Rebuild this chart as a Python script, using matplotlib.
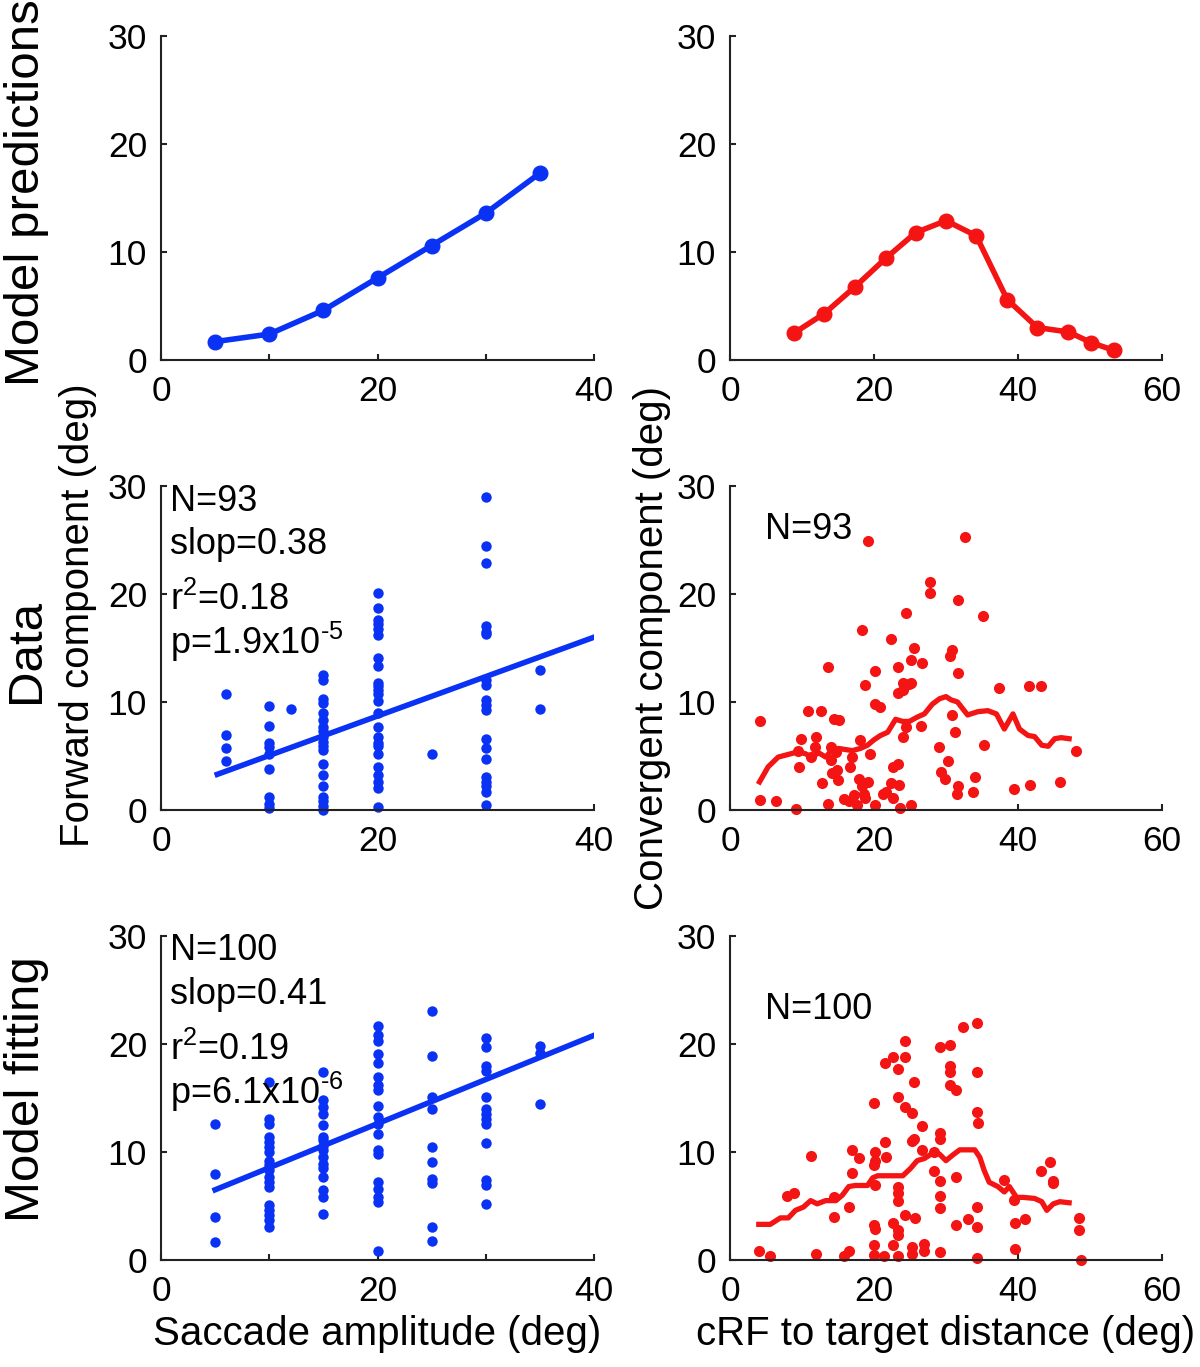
import matplotlib
matplotlib.use('Agg')
import matplotlib.pyplot as plt

plt.rcParams['font.family'] = ['Liberation Sans', 'DejaVu Sans']
plt.rcParams['mathtext.fontset'] = 'custom'
plt.rcParams['mathtext.rm'] = 'Liberation Sans'
plt.rcParams['mathtext.it'] = 'Liberation Sans:italic'
plt.rcParams['mathtext.default'] = 'rm'

BLUE = '#0a32f5'
RED = '#f41414'

# ---- model predictions ----
pred_amp = [5, 10, 15, 20, 25, 30, 35]
pred_forward = [1.7, 2.4, 4.6, 7.6, 10.6, 13.6, 17.3]

pred_dist = [8.9, 13.1, 17.4, 21.6, 25.8, 30.0, 34.2, 38.5, 42.7, 47.0, 50.2, 53.3]
pred_conv = [2.5, 4.3, 6.8, 9.4, 11.8, 12.9, 11.5, 5.6, 3.0, 2.6, 1.6, 0.9]

# ---- data: forward component vs saccade amplitude ----
data_amp = ([6] * 4 + [10] * 9 + [12] + [15] * 19 + [20] * 24 + [25] + [30] * 19 + [35] * 2)
data_forward = [10.7, 6.9, 5.7, 4.5,
                9.6, 7.8, 6.2, 5.8, 5.2, 3.8, 1.2, 0.6, 0.2,
                9.35,
                12.5, 12.0, 10.3, 9.9, 9.0, 8.3, 7.7, 7.3, 6.8, 6.3, 5.9, 5.6, 4.3, 3.2, 2.2, 1.2,
                0.8, 0.4, 0.0,
                20.1, 18.7, 17.6, 17.2, 16.8, 16.2, 14.1, 13.3, 11.8, 11.5, 11.1, 10.7, 10.1, 9.0,
                7.7, 6.8, 6.2, 5.9, 5.2, 4.0, 3.2, 2.6, 2.0, 0.3,
                5.2,
                29.0, 24.4, 22.9, 17.0, 16.5, 16.3, 12.0, 11.6, 10.2, 9.7, 9.3, 6.6, 5.7, 4.7,
                3.1, 2.6, 2.2, 1.7, 0.5,
                13.0, 9.35]
data_fit_x = [5.2, 40]
data_fit_y = [3.3, 16.0]

# ---- data: convergent component vs cRF distance ----
data_dist = [4.2, 4.1, 6.4, 9.1, 9.6, 9.8, 9.4, 10.9, 11.9, 11.8, 11.2, 12.6, 12.8, 13.6, 13.6,
             14.0, 14.0, 14.2, 14.4, 15.1, 14.9, 15.0, 14.7, 15.8, 16.5, 16.7, 17.0, 17.2, 17.7,
             17.9, 18.1, 18.4, 18.4, 18.6, 18.7, 19.1, 18.8, 19.1, 19.5, 20.1, 20.2, 20.8, 20.2,
             21.2, 21.6, 22.3, 22.3, 22.6, 22.7, 23.3, 23.3, 23.3, 23.5, 23.6, 24.0, 24.0, 24.0,
             24.4, 24.4, 24.9, 25.1, 25.2, 25.1, 25.6, 26.5, 26.7, 27.8, 27.8, 29.0, 29.3, 29.8,
             30.3, 30.5, 30.8, 30.8, 31.2, 31.7, 31.7, 31.5, 31.7, 32.7, 33.7, 34.0, 35.1, 35.3,
             37.4, 39.4, 41.5, 41.6, 43.2, 45.8, 48.0]
data_conv = [8.2, 0.9, 0.8, 0.1, 4.0, 6.6, 5.5, 9.2, 6.8, 5.8, 4.9, 9.2, 2.5, 13.2, 0.6,
             5.8, 4.6, 3.4, 8.4, 8.3, 3.7, 2.8, 5.4, 1.0, 0.8, 4.0, 4.9, 1.4, 0.5,
             2.9, 6.5, 16.7, 2.2, 1.5, 1.1, 24.9, 11.6, 2.6, 5.2, 9.8, 12.9, 9.5, 0.5,
             1.5, 1.7, 15.8, 2.5, 1.1, 4.0, 13.2, 10.8, 4.3, 2.3, 0.2, 11.1, 11.8, 6.8,
             18.2, 7.7, 11.7, 13.9, 0.5, 11.8, 15.0, 7.8, 13.6, 21.1, 20.1, 5.8, 3.5, 2.9,
             4.5, 14.3, 14.8, 8.8, 7.2, 12.7, 19.4, 1.5, 2.2, 25.3, 1.7, 3.1, 18.0, 6.0,
             11.3, 1.9, 11.5, 2.3, 11.5, 2.6, 5.5]
data_avg_x = [4.1, 5.3, 6.7, 8.4, 9.5, 10.5, 11.4, 12.3, 13.3, 14.2, 15.1, 16.0, 17.0, 18.1,
              19.1, 20.0, 20.9, 21.9, 23.0, 24.0, 24.9, 26.0, 27.0, 28.1, 29.1, 30.0, 30.7,
              31.6, 33.0, 34.4, 35.8, 37.0, 38.1, 39.3, 40.2, 41.4, 42.3, 43.3, 44.2, 45.1,
              46.0, 47.1]
data_avg_y = [2.6, 4.0, 4.9, 5.2, 5.4, 5.2, 4.9, 5.3, 4.9, 5.6, 5.7, 5.6, 5.5, 5.7,
              6.0, 6.5, 6.9, 7.2, 8.4, 8.2, 8.2, 8.6, 8.9, 9.8, 10.3, 10.5, 10.2,
              10.0, 8.8, 9.1, 9.2, 8.9, 7.5, 8.9, 7.5, 6.9, 6.8, 6.0, 5.9, 6.6,
              6.7, 6.6]

# ---- model fitting: forward component ----
fit_amp = ([5] * 4 + [10] * 18 + [15] * 16 + [20] * 19 + [25] * 10 + [30] * 13 + [35] * 3)
fit_forward = [12.6, 8.0, 4.0, 1.7,
               16.5, 13.1, 12.6, 11.4, 10.9, 10.5, 10.0, 9.2, 8.8, 8.3, 7.7, 7.2, 6.8, 5.1,
               4.6, 4.2, 3.7, 3.1,
               17.4, 14.8, 14.2, 13.5, 12.5, 11.4, 11.1, 10.6, 10.2, 9.5, 8.9, 8.5, 7.7, 6.5,
               5.8, 4.3,
               21.7, 20.8, 20.3, 19.1, 18.2, 16.9, 16.2, 15.7, 14.3, 13.2, 12.6, 11.7, 10.2,
               9.8, 7.2, 6.6, 5.8, 5.4, 0.8,
               23.1, 18.9, 15.1, 14.0, 10.5, 9.1, 7.5, 7.1, 3.1, 1.8,
               20.6, 19.7, 18.0, 17.5, 15.1, 14.0, 13.5, 13.1, 12.6, 10.8, 7.4, 6.9, 5.2,
               19.8, 19.2, 14.4]
fit_line_x = [5, 40]
fit_line_y = [6.5, 20.8]

# ---- model fitting: convergent component ----
fit_dist = [4.0, 5.6, 11.3, 7.9, 8.9, 12.0, 14.4, 14.4, 16.5, 15.9, 16.5, 17.0, 17.9, 17.0,
            20.0, 20.0, 20.2, 20.0, 20.0, 20.0, 20.1, 20.2, 20.2, 21.5, 21.6, 21.4, 21.5,
            22.7, 23.3, 23.3, 24.3, 24.3, 23.3, 23.3, 23.3, 22.6, 23.3, 23.3, 22.6, 23.3,
            24.3, 25.3, 25.6, 25.3, 25.6, 24.3, 25.7, 25.3, 25.3, 26.7, 26.7, 26.9, 26.9,
            28.4, 28.4, 29.1, 29.2, 29.2, 29.2, 29.2, 29.2, 29.2, 30.6, 30.6, 30.6, 30.6,
            31.4, 31.4, 31.4, 32.3, 33.1, 34.3, 34.3, 34.3, 34.5, 34.3, 34.3, 34.3, 38.0,
            39.5, 39.6, 39.6, 41.0, 43.2, 44.4, 44.9, 44.9, 48.5, 48.5, 48.7]
fit_conv = [0.8, 0.4, 9.6, 5.9, 6.2, 0.6, 5.8, 4.0, 4.9, 0.4, 0.8, 10.2, 9.4, 8.1,
            14.5, 3.2, 2.9, 1.4, 0.5, 8.8, 6.9, 10.0, 9.2, 10.9, 9.5, 0.4, 18.2,
            18.8, 17.7, 15.1, 18.8, 20.3, 6.8, 6.2, 5.5, 3.4, 2.8, 2.3, 1.4, 0.4,
            14.2, 13.6, 16.5, 11.0, 11.2, 4.2, 3.9, 1.2, 0.6, 12.4, 10.2, 1.5, 0.8,
            10.0, 8.2, 11.8, 11.2, 7.3, 5.9, 4.8, 0.7, 19.7, 19.9, 18.0, 17.4, 16.2,
            15.7, 7.7, 3.2, 21.6, 3.8, 21.9, 17.4, 13.7, 12.7, 4.9, 3.1, 0.2, 7.4,
            5.6, 3.4, 1.0, 3.8, 8.2, 9.1, 7.3, 7.1, 3.9, 2.8, 0.0]
fit_avg_x = [4.0, 5.6, 7.0, 8.1, 9.1, 10.2, 11.2, 12.1, 13.3, 14.7, 15.6, 16.5, 17.4, 19.1,
             19.8, 20.5, 24.0, 25.1, 26.0, 27.0, 28.4, 29.1, 30.0, 30.9, 31.9, 34.0, 34.7,
             35.3, 36.0, 37.2, 38.1, 38.8, 39.8, 40.7, 42.3, 43.3, 44.0, 44.9, 45.8, 47.1]
fit_avg_y = [3.3, 3.3, 3.9, 3.9, 4.6, 4.9, 5.5, 5.2, 5.5, 5.5, 6.0, 6.8, 6.9, 6.9,
             7.6, 7.8, 7.8, 8.5, 9.2, 9.4, 10.0, 9.8, 9.2, 9.7, 10.2, 10.2, 9.5,
             8.3, 7.2, 6.8, 6.3, 6.8, 5.8, 5.8, 5.7, 5.4, 4.6, 5.2, 5.4, 5.3]

row_labels = ['Model predictions', 'Data', 'Model fitting']
row_label_y = [0.859, 0.524, 0.203]

HY = '\u2010'  # short hyphen for the exponents, as in the original
TICK_FS = 25.5
LABEL_FS = 29
TEXT_FS = 26


def style_axes(ax, xmax, xticks, xticklabels):
    ax.set_xlim(0, xmax)
    ax.set_ylim(0, 30)
    ax.set_xticks(xticks)
    ax.set_xticklabels(xticklabels)
    ax.set_yticks([0, 10, 20, 30])
    for s in ['top', 'right']:
        ax.spines[s].set_visible(False)
    for s in ['left', 'bottom']:
        ax.spines[s].set_linewidth(1.5)
        ax.spines[s].set_color('#222222')
    ax.tick_params(direction='in', length=4, width=1.5, labelsize=TICK_FS, color='#222222')
    ax.tick_params(axis='x', pad=11)
    ax.tick_params(axis='y', pad=10)


fig = plt.figure(figsize=(12, 13.67), dpi=100)

W = 1200.0
H = 1367.0
col_left = [161 / W, 730 / W]
col_w = [433 / W, 432 / W]
row_bottom = [1 - 360 / H, 1 - 810 / H, 1 - 1260 / H]
row_h = 324 / H

axes = [[fig.add_axes([col_left[c], row_bottom[r], col_w[c], row_h]) for c in range(2)]
        for r in range(3)]

left_ticks = [0, 10, 20, 30, 40]
left_labels = ['0', '', '20', '', '40']
right_ticks = [0, 20, 40, 60]
right_labels = ['0', '20', '40', '60']

for r in range(3):
    style_axes(axes[r][0], 40, left_ticks, left_labels)
    style_axes(axes[r][1], 60, right_ticks, right_labels)

# top row
ax = axes[0][0]
ax.plot(pred_amp, pred_forward, '-o', color=BLUE, lw=4, ms=10.5, clip_on=False)
ax = axes[0][1]
ax.plot(pred_dist, pred_conv, '-o', color=RED, lw=4, ms=10.5, clip_on=False)

# middle row
ax = axes[1][0]
ax.plot(data_amp, data_forward, 'o', color=BLUE, ms=7.5, mew=0, clip_on=False)
ax.plot(data_fit_x, data_fit_y, '-', color=BLUE, lw=4)
ax.set_ylabel('Forward component (deg)', fontsize=LABEL_FS)
ax.yaxis.set_label_coords(-0.148, 0.6)
for txt, yy in zip(['N=93', 'slop=0.38', 'r$^{2}$=0.18', 'p=1.9x10$^{' + HY + '5}$'],
                   [0.923, 0.791, 0.618, 0.483]):
    ax.text(0.02, yy, txt, transform=ax.transAxes, fontsize=TEXT_FS, va='baseline', ha='left')

ax = axes[1][1]
ax.plot(data_dist, data_conv, 'o', color=RED, ms=8, mew=0, clip_on=False)
ax.plot(data_avg_x, data_avg_y, '-', color=RED, lw=3.8)
ax.set_ylabel('Convergent component (deg)', fontsize=LABEL_FS)
ax.yaxis.set_label_coords(-0.136, 0.5)
ax.text(0.081, 0.837, 'N=93', transform=ax.transAxes, fontsize=TEXT_FS, va='baseline', ha='left')

# bottom row
ax = axes[2][0]
ax.plot(fit_amp, fit_forward, 'o', color=BLUE, ms=7.5, mew=0, clip_on=False)
ax.plot(fit_line_x, fit_line_y, '-', color=BLUE, lw=4)
ax.set_xlabel('Saccade amplitude (deg)', fontsize=LABEL_FS, labelpad=5)
for txt, yy in zip(['N=100', 'slop=0.41', 'r$^{2}$=0.19', 'p=6.1x10$^{' + HY + '6}$'],
                   [0.926, 0.791, 0.618, 0.48]):
    ax.text(0.02, yy, txt, transform=ax.transAxes, fontsize=TEXT_FS, va='baseline', ha='left')

ax = axes[2][1]
ax.plot(fit_dist, fit_conv, 'o', color=RED, ms=8, mew=0, clip_on=False)
ax.plot(fit_avg_x, fit_avg_y, '-', color=RED, lw=3.8)
ax.set_xlabel('cRF to target distance (deg)', fontsize=LABEL_FS, labelpad=5)
ax.text(0.081, 0.745, 'N=100', transform=ax.transAxes, fontsize=TEXT_FS, va='baseline', ha='left')

for lab, yy in zip(row_labels, row_label_y):
    fig.text(0.022, yy, lab, rotation=90, fontsize=35.5, ha='center', va='center')

fig.savefig('out.png', dpi=100)
